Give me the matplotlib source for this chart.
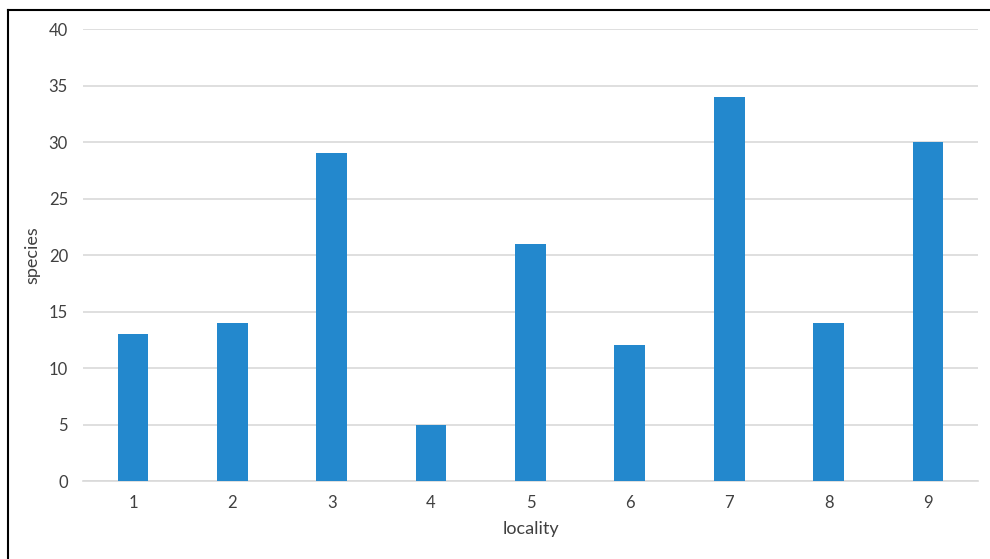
import matplotlib.pyplot as plt
from matplotlib.lines import Line2D

localities = ['1', '2', '3', '4', '5', '6', '7', '8', '9']
species = [13, 14, 29, 5, 21, 12, 34, 14, 30]

plt.rcParams['font.family'] = ['Lato', 'DejaVu Sans']

fig = plt.figure(figsize=(9.9, 5.59), dpi=100)
ax = fig.add_axes([0.0841, 0.1395, 0.9034, 0.8085])

x = list(range(len(localities)))
ax.bar(x, species, width=0.31, color='#2388CD', zorder=3)

ax.set_xlim(-0.5, len(localities) - 0.5)
ax.set_ylim(0, 40)
ax.set_yticks(range(0, 41, 5))
ax.set_xticks(x)
ax.set_xticklabels(localities)
ax.grid(axis='y', color='#D9D9D9', linewidth=1.2, zorder=0)
ax.tick_params(length=0, labelsize=12, labelcolor='#404040')
ax.tick_params(axis='x', pad=10)
ax.tick_params(axis='y', pad=11)
for s in ['top', 'right', 'left']:
    ax.spines[s].set_visible(False)
ax.spines['bottom'].set_color('#D9D9D9')
ax.spines['bottom'].set_linewidth(1.2)

ax.set_xlabel('locality', fontsize=13, color='#404040', labelpad=7)
ax.set_ylabel('species', fontsize=13, color='#404040', labelpad=6)

# frame around the picture (top and left edges only visible)
fig.add_artist(Line2D([8 / 990, 1.0], [1 - 10 / 559, 1 - 10 / 559],
                      transform=fig.transFigure, color='black', linewidth=1.5))
fig.add_artist(Line2D([8 / 990, 8 / 990], [0.0, 1 - 10 / 559],
                      transform=fig.transFigure, color='black', linewidth=1.5))

fig.savefig('out.png', dpi=100)
